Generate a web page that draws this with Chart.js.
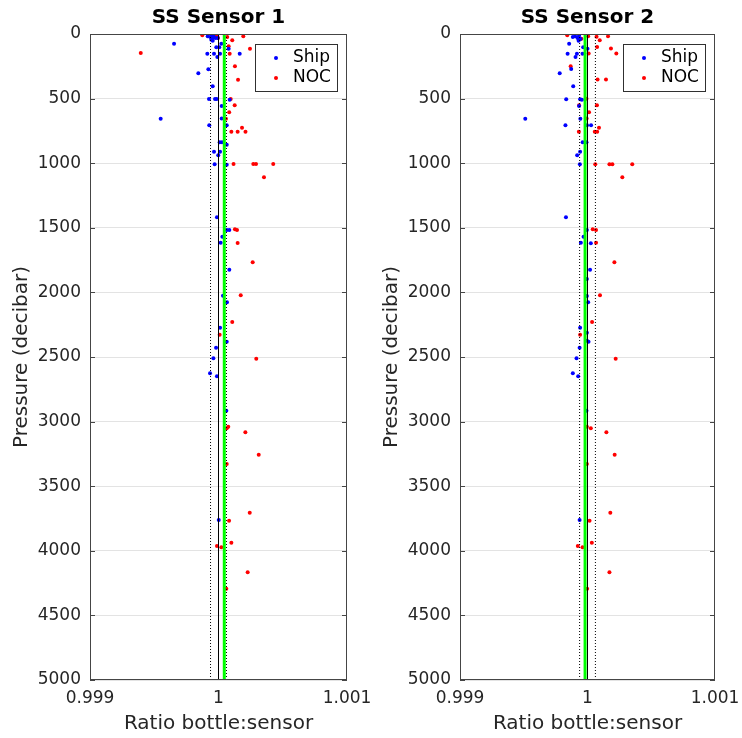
<!DOCTYPE html>
<html>
<head>
<meta charset="utf-8">
<script src="https://cdn.jsdelivr.net/npm/chart.js@4/dist/chart.umd.min.js"></script>
<style>
  body { margin: 0; background: #fff; }
  .panel { position: absolute; top: 0; height: 738px; }
</style>
</head>
<body>
<div class="panel" style="left:0;width:371px"><canvas id="sensor1"></canvas></div>
<div class="panel" style="left:370px;width:372px"><canvas id="sensor2"></canvas></div>
<script>
// axis ticks
const xTicks = [0.999, 1, 1.001];
const xTickLabels = ['0.999', '1', '1.001'];
const yMin = 0, yMax = 5000, yStep = 500;

// SS Sensor 1
const s1ShipPres = [75, 18, 23, 10, 13, 44, 52, 31, 31, 29, 103, 103, 75, 114, 152, 152, 152, 152, 178, 304,
  273, 405, 503, 503, 503, 509, 557, 656, 654, 707, 707, 838, 838, 857, 911, 911, 939, 1009, 1012, 1419,
  1517, 1517, 1569, 1615, 1824, 2026, 2077, 2273, 2382, 2428, 2510, 2626, 2649, 2916, 3762];
const s1ShipRatio = [0.999654, 0.999916, 0.999936, 0.999947, 0.999960, 0.999944, 0.999955, 0.999975, 0.999994, 0.999952,
  0.999983, 1.000006, 1.000022, 1.000079, 0.999913, 0.999965, 1.000012, 1.000165, 0.999991, 0.999843,
  0.999921, 0.999955, 0.999926, 0.999973, 0.999986, 1.000087, 1.000025, 0.999550, 1.000025, 0.999928,
  1.000064, 1.000009, 1.000027, 1.000064, 0.999965, 1.000012, 0.999998, 0.999970, 1.000064, 0.999988,
  1.000084, 1.000064, 1.000030, 1.000017, 1.000084, 1.000035, 1.000066, 1.000012, 1.000064, 0.999981,
  0.999960, 0.999934, 0.999988, 1.000061, 1.000002];
const s1NocPres = [10, 18, 31, 23, 18, 49, 95, 114, 147, 152, 250, 354, 503, 552, 605, 656, 725, 756, 756, 756,
  1006, 1006, 1006, 1006, 1109, 1512, 1517, 1618, 1767, 2022, 2229, 2327, 2513, 3039, 3052, 3082, 3256, 3328,
  3705, 3767, 3937, 3963, 3973, 4166, 4293];
const s1NocRatio = [0.999874, 0.999986, 0.999996, 1.000068, 1.000193, 1.000107, 1.000079, 1.000245, 0.999395, 1.000087,
  1.000128, 1.000152, 1.000095, 1.000126, 1.000083, 1.000058, 1.000183, 1.000100, 1.000149, 1.000210,
  1.000117, 1.000271, 1.000292, 1.000426, 1.000354, 1.000128, 1.000144, 1.000149, 1.000266, 1.000173,
  1.000107, 1.000009, 1.000294, 1.000076, 1.000064, 1.000209, 1.000313, 1.000064, 1.000243, 1.000082,
  1.000100, 0.999988, 1.000022, 1.000227, 1.000061];
const s1Mean = 1.000045;

// SS Sensor 2
const s2ShipPres = [23, 18, 31, 13, 39, 52, 75, 103, 114, 152, 152, 152, 178, 271, 304, 405, 505, 505, 509, 557,
  656, 656, 707, 707, 707, 838, 838, 911, 938, 1009, 1419, 1517, 1569, 1615, 1620, 1824, 1896, 2028, 2077,
  2273, 2312, 2374, 2382, 2428, 2510, 2626, 2649, 2916, 3762];
const s2ShipRatio = [0.999885, 0.999903, 0.999922, 0.999934, 0.999945, 0.999930, 0.999856, 0.999966, 1.000000, 0.999844,
  0.999917, 0.999961, 0.999906, 0.999872, 0.999782, 0.999888, 0.999833, 0.999942, 0.999956, 0.999934,
  0.999512, 0.999944, 0.999827, 0.999996, 1.000028, 0.999962, 0.999992, 0.999942, 0.999919, 0.999940,
  0.999831, 0.999995, 0.999969, 0.999948, 1.000026, 1.000020, 0.999995, 0.999995, 1.000005, 0.999942,
  0.999995, 0.999995, 1.000008, 0.999938, 0.999914, 0.999885, 0.999927, 0.999992, 0.999938];
const s2NocPres = [10, 37, 18, 22, 17, 48, 101, 112, 151, 151, 249, 352, 352, 502, 552, 552, 605, 654, 725, 756,
  756, 756, 1008, 1008, 1008, 1008, 1108, 1512, 1517, 1615, 1767, 2022, 2229, 2327, 2513, 3039, 3052, 3082,
  3256, 3328, 3705, 3767, 3937, 3963, 3973, 4166, 4293];
const s2NocRatio = [0.999841, 0.999952, 1.000005, 1.000071, 1.000161, 1.000096, 1.000075, 1.000184, 1.000009, 1.000226,
  0.999868, 1.000079, 1.000145, 0.999992, 0.999934, 1.000074, 1.000012, 0.999993, 1.000090, 0.999932,
  1.000057, 1.000076, 1.000061, 1.000172, 1.000195, 1.000351, 1.000273, 1.000041, 1.000067, 1.000067,
  1.000211, 1.000098, 1.000036, 0.999942, 1.000221, 0.999995, 1.000026, 1.000148, 1.000213, 0.999995,
  1.000179, 1.000016, 1.000034, 0.999924, 0.999961, 1.000172, 0.999997];
const s2Mean = 0.999981;

// reference lines: 1 and the dotted band round it
const unity = 1;
const band = [0.999938, 1.000062];

const FONT = '"DejaVu Sans", sans-serif';
const AX = '#262626';

const toXY = (xs, ys) => xs.map((x, i) => ({ x: x, y: ys[i] }));
const vline = (x) => [{ x: x, y: yMin }, { x: x, y: yMax }];

// MATLAB style title, box, inward ticks and boxed legend
const boxPlugin = {
  id: 'matlabBox',
  afterDraw(chart, args, opts) {
    const { ctx, chartArea: a, scales } = chart;
    ctx.save();
    ctx.fillStyle = '#000';
    ctx.font = 'bold 20px ' + FONT;
    ctx.textAlign = 'center';
    ctx.textBaseline = 'middle';
    ctx.fillText(opts.title, (a.left + a.right) / 2, 18);

    ctx.strokeStyle = '#454545';
    ctx.lineWidth = 1;
    ctx.strokeRect(Math.round(a.left) + 0.5, Math.round(a.top) + 0.5,
      Math.round(a.right - a.left) - 1, Math.round(a.bottom - a.top) - 1);
    ctx.beginPath();
    scales.y.ticks.forEach(t => {
      const y = Math.round(scales.y.getPixelForValue(t.value)) + 0.5;
      ctx.moveTo(a.left, y); ctx.lineTo(a.left + 5, y);
      ctx.moveTo(a.right, y); ctx.lineTo(a.right - 5, y);
    });
    ctx.stroke();

    const w = 82, h = 47;
    const lx = Math.round(a.right - 10 - w), ly = Math.round(a.top + 10);
    ctx.fillStyle = '#fff';
    ctx.fillRect(lx, ly, w, h);
    ctx.strokeStyle = '#303030';
    ctx.strokeRect(lx + 0.5, ly + 0.5, w, h);
    ctx.font = '17px ' + FONT;
    ctx.textAlign = 'left';
    chart.data.datasets.filter(d => d.label).forEach((d, i) => {
      const cy = ly + 14 + i * 20;
      ctx.fillStyle = d.backgroundColor;
      ctx.beginPath();
      ctx.arc(lx + 21, cy, 2, 0, 2 * Math.PI);
      ctx.fill();
      ctx.fillStyle = '#000';
      ctx.fillText(d.label, lx + 38, cy);
    });
    ctx.restore();
  }
};

function makeChart(id, title, shipX, shipY, nocX, nocY, mean, padRight) {
  const dots = { showLine: false, pointRadius: 2, pointHoverRadius: 2, borderWidth: 0, order: 2 };
  const line = { type: 'line', pointRadius: 0, fill: false, order: 1 };
  return new Chart(document.getElementById(id), {
    type: 'scatter',
    data: {
      datasets: [
        { ...dots, label: 'Ship', data: toXY(shipX, shipY), backgroundColor: '#0000ff' },
        { ...dots, label: 'NOC', data: toXY(nocX, nocY), backgroundColor: '#ff0000' },
        { ...line, data: vline(unity), borderColor: '#000', borderWidth: 1 },
        { ...line, data: vline(mean), borderColor: '#00ff00', borderWidth: 3 },
        { ...line, data: vline(band[0]), borderColor: '#000', borderWidth: 1, borderDash: [1, 2] },
        { ...line, data: vline(band[1]), borderColor: '#000', borderWidth: 1, borderDash: [1, 2] }
      ]
    },
    options: {
      responsive: true,
      maintainAspectRatio: false,
      animation: false,
      layout: { padding: { left: 0, right: padRight, top: 34, bottom: 0 } },
      plugins: {
        legend: { display: false },
        tooltip: { enabled: false },
        title: { display: false },
        matlabBox: { title: title }
      },
      scales: {
        x: {
          type: 'linear',
          min: xTicks[0],
          max: xTicks[xTicks.length - 1],
          afterBuildTicks: s => { s.ticks = xTicks.map(v => ({ value: v })); },
          afterFit: s => { s.height = 58; s.paddingLeft = 0; s.paddingRight = 0; },
          grid: { display: false },
          border: { display: false },
          ticks: {
            autoSkip: false,
            maxRotation: 0,
            padding: 0,
            color: AX,
            font: { family: FONT, size: 17 },
            callback: (v, i) => xTickLabels[i]
          },
          title: {
            display: true,
            text: 'Ratio bottle:sensor',
            color: AX,
            font: { family: FONT, size: 20 },
            padding: { top: 0, bottom: 2 }
          }
        },
        y: {
          type: 'linear',
          reverse: true,
          min: yMin,
          max: yMax,
          afterFit: s => { s.width = 90; s.paddingTop = 0; s.paddingBottom = 0; },
          grid: { color: '#e3e3e3', drawTicks: false },
          border: { display: false },
          ticks: {
            stepSize: yStep,
            padding: 9,
            color: AX,
            font: { family: FONT, size: 17 },
            callback: v => String(v)
          },
          title: {
            display: true,
            text: 'Pressure (decibar)',
            color: AX,
            font: { family: FONT, size: 20 },
            padding: { top: 10, bottom: 0 }
          }
        }
      }
    },
    plugins: [boxPlugin]
  });
}

makeChart('sensor1', 'SS Sensor 1', s1ShipRatio, s1ShipPres, s1NocRatio, s1NocPres, s1Mean, 24);
makeChart('sensor2', 'SS Sensor 2', s2ShipRatio, s2ShipPres, s2NocRatio, s2NocPres, s2Mean, 27);
</script>
</body>
</html>
